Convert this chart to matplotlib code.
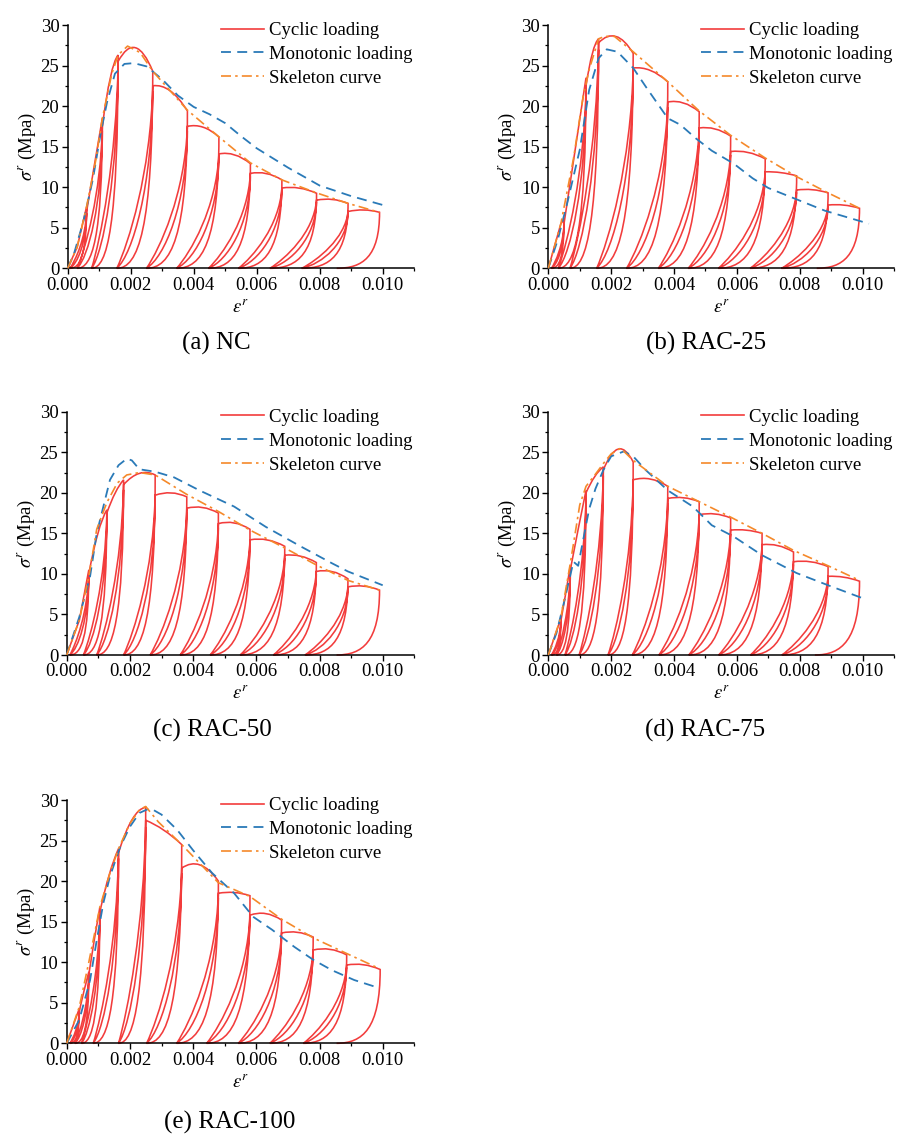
import matplotlib
matplotlib.use("Agg")
import matplotlib.pyplot as plt
from matplotlib.path import Path
from matplotlib.patches import PathPatch
from matplotlib.lines import Line2D
from matplotlib.ticker import MultipleLocator, FormatStrFormatter

plt.rcParams["font.family"] = ["Liberation Serif", "DejaVu Serif"]
plt.rcParams["mathtext.fontset"] = "stix"

# ---------------- (a) NC ----------------
nc_skel_e = [0, 0.0003, 0.0006, 0.0009, 0.0011, 0.0014, 0.0016, 0.0019, 0.0023, 0.0027,
             0.0038, 0.0048, 0.0058, 0.0068, 0.0079, 0.0089, 0.0099]
nc_skel_s = [0, 2.6, 7.6, 13.5, 18.5, 24.0, 26.3, 27.4, 26.6, 24.3,
             19.5, 16.2, 13.0, 10.9, 9.3, 8.0, 6.9]
nc_mono_e = [0, 0.0002, 0.0005, 0.0008, 0.00105, 0.00125, 0.0015, 0.0018, 0.0021, 0.0025,
             0.003, 0.0035, 0.004, 0.0045, 0.005, 0.0055, 0.006, 0.007, 0.008, 0.009, 0.0101]
nc_mono_s = [0, 1.8, 5.8, 11.0, 16.7, 20.5, 24.0, 25.2, 25.3, 24.9,
             23.3, 21.3, 19.9, 19.0, 17.9, 16.3, 14.8, 12.4, 10.2, 8.9, 7.7]
nc_un_e = [0.0006, 0.0011, 0.0016, 0.0027, 0.0038, 0.0048, 0.0058, 0.0068, 0.0079, 0.0089, 0.0099]
nc_un_s = [7.6, 18.5, 26.3, 24.3, 19.4, 16.2, 12.9, 10.9, 9.25, 8.0, 6.9]
nc_res_e = [0.00007, 0.0003, 0.00076, 0.00156, 0.0025, 0.00346, 0.00447, 0.00542, 0.00642, 0.00743, 0.00854]
nc_rel_s = [7.0, 17.5, 25.5, 22.5, 17.5, 14.1, 11.7, 9.9, 8.4, 7.0]
nc_cap_s = [12.8, 23.5, 27.2, 21.9, 17.4, 14.0, 11.7, 9.9, 8.5, 7.2]

# ---------------- (b) RAC-25 ----------------
r25_skel_e = [0, 0.0004, 0.0008, 0.0011, 0.0013, 0.0016, 0.0018, 0.0021, 0.0027,
              0.0038, 0.0048, 0.0058, 0.0069, 0.0079, 0.0089, 0.0099]
r25_skel_s = [0, 5.5, 13.5, 21.0, 24.5, 28.3, 28.6, 28.6, 26.7,
              23.0, 19.4, 16.4, 13.6, 11.3, 9.3, 7.4]
r25_mono_e = [0, 0.0003, 0.0006, 0.001, 0.0013, 0.0016, 0.00186, 0.0022, 0.0027, 0.0031,
              0.0038, 0.0042, 0.0047, 0.0052, 0.0059, 0.0065, 0.007, 0.0079, 0.0088, 0.0095, 0.0102]
r25_mono_s = [0, 3.5, 8.0, 14.6, 22.0, 25.9, 27.0, 26.7, 24.7, 22.4,
              18.5, 17.7, 16.0, 14.5, 12.9, 11.1, 9.9, 8.5, 7.1, 6.3, 5.5]
r25_un_e = [0.0005, 0.0012, 0.0016, 0.0027, 0.0038, 0.0048, 0.0058, 0.0069, 0.0079, 0.0089, 0.0099]
r25_un_s = [6.0, 23.5, 28.3, 26.5, 23.0, 19.3, 16.3, 13.5, 11.4, 9.3, 7.4]
r25_res_e = [0.0001, 0.00032, 0.00069, 0.00154, 0.00249, 0.0035, 0.00445, 0.00541, 0.00642, 0.00742, 0.00854]
r25_rel_s = [5.5, 22.5, 27.8, 24.7, 20.5, 17.3, 14.4, 11.9, 9.65, 7.8]
r25_cap_s = [14.5, 26.5, 28.6, 24.4, 20.4, 17.2, 14.3, 11.8, 9.7, 7.8]

# ---------------- (c) RAC-50 ----------------
r50_skel_e = [0, 0.0004, 0.0007, 0.00095, 0.00127, 0.0016, 0.0019, 0.0023, 0.0028,
              0.0038, 0.0048, 0.0058, 0.0069, 0.0079, 0.0089, 0.0099]
r50_skel_s = [0, 4.3, 9.7, 15.5, 18.8, 21.2, 22.2, 22.5, 22.2,
              19.8, 17.7, 15.4, 13.2, 11.1, 9.2, 8.0]
r50_mono_e = [0, 0.0004, 0.00074, 0.00095, 0.00116, 0.00137, 0.00164, 0.0019, 0.00206, 0.0023,
              0.0028, 0.0034, 0.0042, 0.0053, 0.0063, 0.0074, 0.0084, 0.0089, 0.0100]
r50_mono_s = [0, 4.7, 9.7, 15.0, 18.3, 21.6, 23.4, 24.2, 24.0, 22.9,
              22.6, 21.9, 20.3, 18.3, 15.8, 13.4, 11.3, 10.3, 8.6]
r50_un_e = [0.0007, 0.00127, 0.0018, 0.0028, 0.0038, 0.0048, 0.0058, 0.0069, 0.0079, 0.0089, 0.0099]
r50_un_s = [10.5, 17.9, 21.6, 22.2, 19.5, 17.5, 15.5, 13.4, 11.4, 9.4, 8.0]
r50_res_e = [0.0001, 0.00053, 0.00095, 0.0018, 0.00264, 0.00359, 0.00454, 0.00549, 0.00654, 0.00754, 0.00854]
r50_rel_s = [10.0, 17.5, 21.0, 19.7, 18.1, 16.2, 14.2, 12.3, 10.3, 8.4]
r50_cap_s = [15.0, 20.0, 22.4, 20.0, 18.2, 16.3, 14.2, 12.2, 10.3, 8.5]

# ---------------- (d) RAC-75 ----------------
r75_skel_e = [0, 0.0004, 0.0007, 0.001, 0.0012, 0.0015, 0.00175, 0.002, 0.0023, 0.0027,
              0.0038, 0.0048, 0.0058, 0.0068, 0.0078, 0.0089, 0.0099]
r75_skel_s = [0, 4.6, 11.3, 18.5, 20.8, 22.3, 23.6, 24.8, 25.5, 24.0,
              20.8, 18.9, 17.0, 15.0, 12.9, 11.0, 9.2]
r75_mono_e = [0, 0.00026, 0.0005, 0.0008, 0.00095, 0.0011, 0.0013, 0.0015, 0.00175, 0.002,
              0.0024, 0.0027, 0.0031, 0.0038, 0.0046, 0.0052, 0.0059, 0.0068, 0.0079, 0.0089, 0.0100]
r75_mono_s = [0, 2.7, 6.5, 11.5, 11.0, 14.0, 18.0, 20.5, 22.8, 24.5,
              25.1, 24.5, 22.8, 20.3, 18.3, 16.0, 14.6, 12.3, 10.1, 8.6, 7.0]
r75_un_e = [0.0004, 0.0007, 0.0012, 0.00175, 0.0027, 0.0038, 0.0048, 0.0058, 0.0068, 0.0078, 0.0089, 0.0099]
r75_un_s = [4.5, 11.0, 20.3, 23.2, 23.8, 20.8, 18.9, 16.9, 15.0, 12.7, 10.9, 9.1]
r75_res_e = [0.0001, 0.00026, 0.00053, 0.00098, 0.0019, 0.00267, 0.00352, 0.00447, 0.00542, 0.00643, 0.00743, 0.00848]
r75_rel_s = [4.2, 10.5, 20.0, 22.8, 21.6, 19.3, 17.3, 15.4, 13.6, 11.5, 9.7]
r75_cap_s = [7.5, 15.5, 22.0, 25.4, 21.7, 19.4, 17.4, 15.4, 13.5, 11.5, 9.6]

# ---------------- (e) RAC-100 ----------------
r100_skel_e = [0, 0.0004, 0.0007, 0.00105, 0.00137, 0.00164, 0.002, 0.0023, 0.0025, 0.0029,
               0.00364, 0.0048, 0.0058, 0.0068, 0.0078, 0.0089, 0.0099]
r100_skel_s = [0, 4.5, 10.0, 16.8, 21.0, 24.0, 27.1, 28.8, 29.2, 27.3,
               24.5, 19.8, 18.1, 15.3, 13.0, 11.0, 9.2]
r100_mono_e = [0, 0.0004, 0.00074, 0.00095, 0.00116, 0.00137, 0.00169, 0.002, 0.0023, 0.00264,
               0.003, 0.0035, 0.004, 0.0046, 0.0053, 0.0059, 0.0065, 0.0072, 0.0078, 0.0084, 0.0091, 0.0099]
r100_mono_s = [0, 2.9, 7.8, 12.7, 17.3, 20.6, 24.2, 26.7, 28.4, 29.0,
               28.2, 26.3, 23.8, 21.0, 18.5, 15.6, 14.0, 11.9, 10.3, 9.0, 7.8, 6.8]
r100_un_e = [0.0004, 0.0007, 0.00105, 0.00164, 0.0025, 0.00364, 0.0048, 0.0058, 0.0068, 0.0078, 0.00886, 0.00992]
r100_un_s = [4.3, 8.8, 16.8, 24.0, 29.1, 24.5, 20.0, 18.2, 15.2, 13.1, 10.9, 9.1]
r100_res_e = [0.0001, 0.00026, 0.00047, 0.00084, 0.00164, 0.00253, 0.00348, 0.00443, 0.00543, 0.00643, 0.00749, 0.00854]
r100_rel_s = [4.0, 8.5, 16.2, 23.5, 27.5, 21.6, 18.5, 15.8, 13.6, 11.5, 9.65]
r100_cap_s = [6.5, 12.8, 20.8, 27.6, 26.3, 22.0, 18.6, 16.0, 13.7, 11.6, 9.7]

captions = ["(a) NC", "(b) RAC-25", "(c) RAC-50", "(d) RAC-75", "(e) RAC-100"]
legend_labels = ["Cyclic loading", "Monotonic loading", "Skeleton curve"]
x_ticks = [0.000, 0.002, 0.004, 0.006, 0.008, 0.010]
y_ticks = [0, 5, 10, 15, 20, 25, 30]

panels = [
    dict(skel=(nc_skel_e, nc_skel_s), mono=(nc_mono_e, nc_mono_s),
         cyc=(nc_un_e, nc_un_s, nc_res_e, nc_rel_s, nc_cap_s)),
    dict(skel=(r25_skel_e, r25_skel_s), mono=(r25_mono_e, r25_mono_s),
         cyc=(r25_un_e, r25_un_s, r25_res_e, r25_rel_s, r25_cap_s)),
    dict(skel=(r50_skel_e, r50_skel_s), mono=(r50_mono_e, r50_mono_s),
         cyc=(r50_un_e, r50_un_s, r50_res_e, r50_rel_s, r50_cap_s)),
    dict(skel=(r75_skel_e, r75_skel_s), mono=(r75_mono_e, r75_mono_s),
         cyc=(r75_un_e, r75_un_s, r75_res_e, r75_rel_s, r75_cap_s)),
    dict(skel=(r100_skel_e, r100_skel_s), mono=(r100_mono_e, r100_mono_s),
         cyc=(r100_un_e, r100_un_s, r100_res_e, r100_rel_s, r100_cap_s)),
]

# axes boxes in pixels: (left, top, right, bottom)
boxes_px = [(67.7, 25.0, 414.2, 268.3), (548.3, 25.0, 894.1, 268.3),
            (66.7, 411.7, 414.3, 655.0), (548.3, 411.7, 894.1, 655.0),
            (66.7, 800.0, 414.3, 1043.3)]
caption_px = [(216, 343), (706, 343), (212, 730), (705, 730), (230, 1122)]

W, H = 897, 1136
RED = "#f23c3c"
BLUE = "#2a7ab8"
ORANGE = "#f5892a"
FS = 13.5


def cyclic_path(skel_e, skel_s, un_e, un_s, res_e, rel_s, cap_s):
    verts, codes = [], []
    extra_v, extra_c = [], []
    start = [(e, s) for e, s in zip(skel_e, skel_s) if e < un_e[0]]
    verts.append(start[0]); codes.append(Path.MOVETO)
    for pt in start[1:] + [(un_e[0], un_s[0])]:
        verts.append(pt); codes.append(Path.LINETO)
    n = len(un_e)
    for k in range(n):
        eu, su, ep = un_e[k], un_s[k], res_e[k]
        d = eu - ep
        # unloading branch
        verts += [(eu, 0.2 * su), (ep + 0.6 * d, 0.0), (ep, 0.0)]
        codes += [Path.CURVE4] * 3
        if k == n - 1:
            break
        r = rel_s[k]
        # reloading branch
        verts += [(ep + 0.33 * d, 0.14 * r), (eu - 0.06 * d, 0.52 * r), (eu, r)]
        codes += [Path.CURVE4] * 3
        # repeated reloading branch
        extra_v += [(ep, 0.0), (ep + 0.45 * d, 0.08 * r), (eu - 0.02 * d, 0.45 * r), (eu, 0.97 * r)]
        extra_c += [Path.MOVETO] + [Path.CURVE4] * 3
        # envelope cap up to the next unloading point
        en, sn = un_e[k + 1], un_s[k + 1]
        mx = 0.5 * (eu + en)
        ctrl = (mx, 2 * cap_s[k] - 0.5 * (r + sn))
        verts += [ctrl, (en, sn)]
        codes += [Path.CURVE3] * 2
    return Path(verts + extra_v, codes + extra_c)


fig = plt.figure(figsize=(W / 100, H / 100), dpi=100)

for p, box, cap, cpos in zip(panels, boxes_px, captions, caption_px):
    l, t, r, b = box
    ax = fig.add_axes([l / W, 1 - b / H, (r - l) / W, (b - t) / H])

    path = cyclic_path(*p["skel"], *p["cyc"])
    ax.add_patch(PathPatch(path, fill=False, edgecolor=RED, lw=1.15, zorder=2, clip_on=False))
    ax.plot(*p["mono"], color=BLUE, lw=1.3, dashes=(5.5, 3.5), zorder=3, clip_on=False)
    ax.plot(*p["skel"], color=ORANGE, lw=1.2, dashes=(6, 2.5, 1.5, 2.5), zorder=4, clip_on=False)

    ax.set_xlim(0, 0.011)
    ax.set_ylim(0, 30)
    ax.set_xticks(x_ticks)
    ax.set_yticks(y_ticks)
    ax.xaxis.set_minor_locator(MultipleLocator(0.001))
    ax.yaxis.set_minor_locator(MultipleLocator(2.5))
    ax.xaxis.set_major_formatter(FormatStrFormatter("%.3f"))
    for side in ("top", "right"):
        ax.spines[side].set_visible(False)
    for side in ("left", "bottom"):
        ax.spines[side].set_linewidth(1.1)
    ax.tick_params(which="major", direction="out", length=4, width=1.0, labelsize=FS, pad=2)
    ax.tick_params(which="minor", direction="out", length=2.5, width=0.9)

    ax.set_xlabel(r"$\varepsilon^r$", fontsize=FS, labelpad=4)
    ax.set_ylabel(r"$\sigma^r$ (Mpa)", fontsize=FS, labelpad=2)

    handles = [Line2D([], [], color=RED, lw=1.2),
               Line2D([], [], color=BLUE, lw=1.3, dashes=(5.5, 3.5)),
               Line2D([], [], color=ORANGE, lw=1.2, dashes=(6, 2.5, 1.5, 2.5))]
    ax.legend(handles, legend_labels, loc="upper right", bbox_to_anchor=(1.0, 1.02),
              frameon=False, fontsize=FS, handlelength=2.3, handletextpad=0.25,
              labelspacing=0.36, borderpad=0.1, borderaxespad=0.0)

    fig.text(cpos[0] / W, 1 - cpos[1] / H, cap, fontsize=18, ha="center", va="center")

fig.savefig("out.png", dpi=100)
